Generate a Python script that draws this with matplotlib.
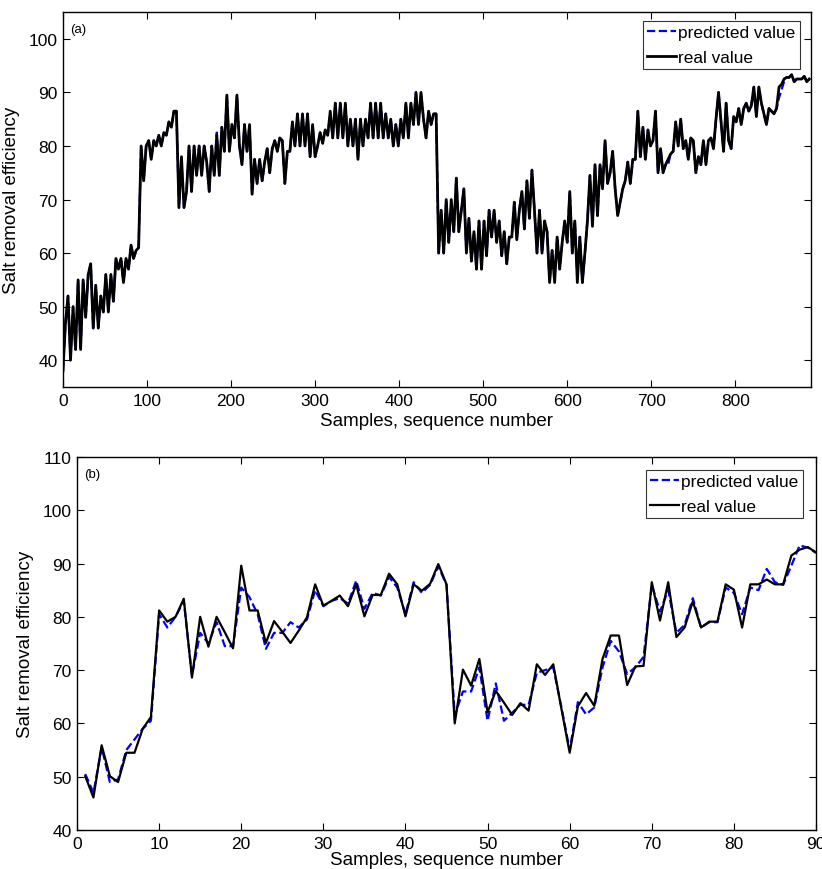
import matplotlib
matplotlib.use("Agg")
import matplotlib.pyplot as plt
import numpy as np

plt.rcParams["font.family"] = ["Liberation Sans", "DejaVu Sans"]

# --- panel (a): every 3rd sample of the full record ---
step_a = 3
real_a = [
    38, 47, 52, 40, 50, 42, 55, 42, 55, 48, 56, 58, 46, 54, 46, 52, 49, 56, 49, 56,
    51, 59, 57, 59, 54.5, 59, 57, 61.5, 59, 60.5, 61, 80, 73.5, 80, 81, 77.5, 81, 80, 82, 80,
    82.5, 82, 84.5, 83.5, 86.5, 86.5, 68.5, 78, 68.5,
    71.5, 80, 71.5, 80, 74.5, 80, 74.5, 80, 77, 71.5, 80, 74.5, 82, 74.5, 83.5, 79, 89.5, 79, 84, 81.5,
    89.5, 80, 76.5, 84, 79, 84, 71, 77.5, 73, 77.5, 73.5, 77, 79.5, 75, 79.5, 81, 79, 81.5, 81, 73,
    79, 79, 84.5, 80, 86, 80, 86, 80, 86, 78, 84,
    78, 80, 82.5, 80.5, 83, 82, 86.5, 81.5, 88, 81.5, 88, 81.5, 88, 80, 85, 80, 85, 77.5, 85, 80,
    85, 81.5, 88, 81.5, 88, 81.5, 88, 81.5, 86, 81.5, 85, 80, 84, 80, 85, 81.5, 88, 81.5, 88, 84,
    90, 84, 90, 85, 81.5, 86.5, 84, 86, 86,
    60, 68, 60, 70, 62, 70, 64, 74, 64, 68, 72, 60, 66.5, 58.5, 64, 57, 66, 57, 66, 59.5,
    68, 63, 68, 62, 66, 59.5, 64, 58, 63, 63, 69.5, 62.5, 68, 71.5, 64.5, 73.5, 66.5, 75.5, 68, 60,
    68, 60, 66, 64, 54.5, 60.5, 54.5, 63, 57, 62,
    66, 62, 71.5, 60, 66, 54.5, 63, 54.5, 60, 66, 74.5, 65, 76.5, 67, 76.5, 72, 81, 73, 75, 79,
    72, 67, 69.5, 72, 73.5, 77, 73, 77.5, 77.5, 86.5, 78, 83.5, 77.5, 83, 80, 81, 86.5, 75, 79.5, 75,
    76.5, 77.5, 78.5, 79, 84.5, 80, 85, 79.5, 81,
    77.5, 81.5, 81, 75, 78, 76.5, 81, 76.5, 81, 81.5, 79.5, 85, 90, 84.5, 79, 88, 81, 79.5, 85.5, 84.5,
    87, 84, 87, 88, 86.5, 87.5, 91, 85.5, 91, 88, 86, 84, 87, 86.5, 86, 87, 91, 91.5, 92.5, 92.8,
    92.8, 93.3, 92, 92.5, 92.5, 92.5, 93, 92, 92.5,
]
# predicted follows the real curve except where blue shows through
pred_a_diff = {141: 77, 183: 82.5, 318: 86, 462: 68.5, 585: 56, 612: 56,
               720: 76.5, 852: 89, 855: 90.5, 858: 92}

# --- panel (b): 90 test samples ---
real_b = [
    50.1, 46.1, 55.9, 50.1, 49.0, 54.5, 54.5, 59, 61.2, 81.2,
    79.1, 80, 83.4, 68.6, 80, 74.4, 80, 77.1, 74.1, 89.6,
    81.2, 81.2, 75.1, 79.2, 77.2, 75.1, 77.4, 79.9, 86.1, 82.1,
    83.0, 84.0, 82.0, 86.1, 80.1, 84.1, 84.1, 88.1, 86.1, 80.1,
    86.1, 84.9, 86.2, 89.9, 86.1, 60.0, 70.1, 67.1, 72.1, 62.1,
    66.1, 63.9, 61.6, 63.8, 62.4, 71.1, 69.1, 71.1, 62.7, 54.5,
    63.2, 65.7, 63.3, 72.1, 76.5, 76.5, 67.2, 70.7, 70.8, 86.5,
    79.3, 86.5, 76.2, 78, 82.9, 78, 79.1, 79.1, 86.1, 85.1,
    78, 86.1, 86.1, 87, 86.1, 86.1, 91.5, 92.6, 93.1, 92.1,
]
pred_b = [
    50.5, 47, 55.5, 49, 49.5, 55, 57, 59, 60.5, 80.5,
    78, 80, 83, 69, 77, 75, 79, 74.5, 74.5, 85.5,
    83.7, 80.5, 74, 77, 77, 79, 78, 79.5, 85, 82,
    83, 83.5, 82.5, 86.8, 81.5, 84.5, 84, 87.5, 85.5, 80.5,
    86.5, 84.5, 86, 89.5, 86, 61.5, 66, 66, 70.5, 60.5,
    67.5, 60.5, 62, 63.5, 63.5, 69.5, 70, 70.5, 63, 55,
    64, 61.7, 63, 70.5, 75.5, 73.5, 69.3, 70.5, 72.5, 86,
    81, 85, 77, 78.5, 83.5, 78, 79, 79, 85.5, 84.5,
    80.5, 85.5, 85, 89, 86.5, 86, 89.6, 93.4, 93, 92,
]

x_a = np.arange(len(real_a)) * step_a
pred_a = list(real_a)
for s, v in pred_a_diff.items():
    pred_a[s // step_a] = v
x_b = np.arange(1, len(real_b) + 1)


def style_axes(ax, label, xpad):
    ax.tick_params(direction="in", top=True, right=True, length=5, width=0.8,
                   labelsize=12.5, pad=4)
    for sp in ax.spines.values():
        sp.set_linewidth(1.0)
    ax.set_xlabel("Samples, sequence number", fontsize=13.5, labelpad=xpad)
    ax.set_ylabel("Salt removal efficiency", fontsize=13.5, labelpad=6)
    ax.text(0.009, 0.955, label, transform=ax.transAxes, fontsize=9.5,
            ha="left", va="center")


def add_legend(ax, anchor):
    leg = ax.legend(loc="upper right", bbox_to_anchor=anchor, fontsize=12.4,
                    frameon=True, fancybox=False, borderaxespad=0, handlelength=1.7,
                    handletextpad=0.1, borderpad=0.25, labelspacing=0.55)
    leg.get_frame().set_edgecolor("black")
    leg.get_frame().set_linewidth(0.8)


fig = plt.figure(figsize=(8.22, 8.70), dpi=100)

ax1 = fig.add_axes([0.0766, 0.554, 0.910, 0.431])
ax1.plot(x_a, pred_a, "--", color="blue", lw=1.6, label="predicted value")
ax1.plot(x_a, real_a, "-", color="black", lw=2.0, label="real value")
ax1.set_xlim(0, 890)
ax1.set_ylim(35, 105)
ax1.set_xticks(np.arange(0, 900, 100))
ax1.set_yticks(np.arange(40, 101, 10))
style_axes(ax1, "(a)", 3)
add_legend(ax1, (0.985, 0.976))

ax2 = fig.add_axes([0.0937, 0.0448, 0.899, 0.4288])
ax2.plot(x_b, pred_b, "--", color="blue", lw=1.6, label="predicted value")
ax2.plot(x_b, real_b, "-", color="black", lw=1.6, label="real value")
ax2.set_xlim(0, 90)
ax2.set_ylim(40, 110)
ax2.set_xticks(np.arange(0, 91, 10))
ax2.set_yticks(np.arange(40, 111, 10))
style_axes(ax2, "(b)", 0)
add_legend(ax2, (0.982, 0.965))

fig.savefig("out.png", dpi=100)
